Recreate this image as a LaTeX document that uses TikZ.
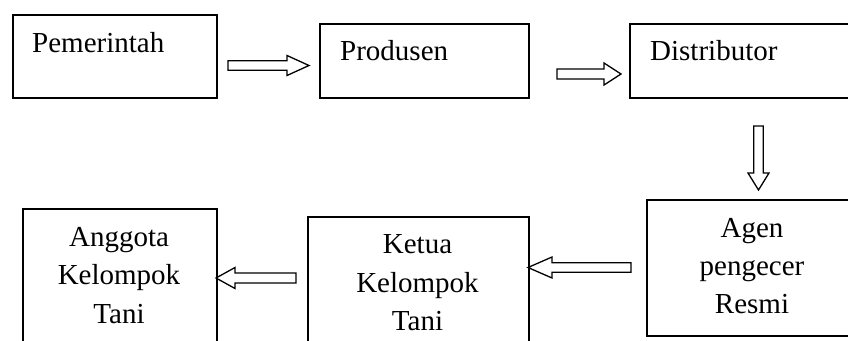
\documentclass[tikz,border=0pt]{standalone}
\usepackage{fontspec}
\setmainfont{Liberation Serif}
\tikzset{
  stagebox/.style={draw=black, line width=1.8pt, rectangle, inner sep=0pt},
  stagetext/.style={inner sep=0pt, font=\fontsize{29}{38.5}\selectfont},
  blockarrow/.style={draw=black, fill=white, line width=1.3pt, line join=miter},
}
% hollow block arrow: #1 tail, #2 rotation, #3 length, #4 head length,
% #5 half shaft width, #6 half head width
\newcommand\flowarrow[6]{%
  \begin{scope}[shift={#1}, rotate=#2]
    \draw[blockarrow] (0,-#5) -- ({#3-#4},-#5) -- ({#3-#4},-#6) -- (#3,0)
      -- ({#3-#4},#6) -- ({#3-#4},#5) -- (0,#5) -- cycle;
  \end{scope}}
\begin{document}
\begin{tikzpicture}[x=1pt, y=-1pt]
  \useasboundingbox (0,0) rectangle (848,340);
  \clip (0,0) rectangle (848,340);
  \fill[white] (0,0) rectangle (848,340);

  % top row
  \node[stagebox, anchor=north west, minimum width=204pt, minimum height=83pt] (gov) at (12,14) {};
  \node[stagetext, anchor=base west] (govt) at (32,52) {Pemerintah};
  \node[stagebox, anchor=north west, minimum width=209pt, minimum height=74pt] (prod) at (319,23) {};
  \node[stagetext, anchor=base west] (prodt) at (340,60) {Produsen};
  \node[stagebox, anchor=north west, minimum width=229pt, minimum height=74pt] (dist) at (629,23) {};
  \node[stagetext, anchor=base west] (distt) at (650,60) {Distributor};

  % bottom row
  \node[stagebox, anchor=north west, minimum width=212pt, minimum height=136pt] (agen) at (646,199) {};
  \node[stagetext, anchor=base] (agen1) at (752,237) {Agen};
  \node[stagetext, anchor=base] (agen2) at (752,275.5) {pengecer};
  \node[stagetext, anchor=base] (agen3) at (752,313.5) {Resmi};

  \node[stagebox, anchor=north west, minimum width=221pt, minimum height=140pt] (ketua) at (307,216) {};
  \node[stagetext, anchor=base] (ketua1) at (417.5,253) {Ketua};
  \node[stagetext, anchor=base] (ketua2) at (417.5,292) {Kelompok};
  \node[stagetext, anchor=base] (ketua3) at (417.5,330) {Tani};

  \node[stagebox, anchor=north west, minimum width=194pt, minimum height=148pt] (anggota) at (22,208) {};
  \node[stagetext, anchor=base] (ang1) at (119,246) {Anggota};
  \node[stagetext, anchor=base] (ang2) at (119,284.5) {Kelompok};
  \node[stagetext, anchor=base] (ang3) at (119,323) {Tani};

  % flow arrows between the stages
  \flowarrow{(228,65.5)}{0}{81}{22}{4.7}{10}
  \flowarrow{(557,74)}{0}{64}{17}{5}{11}
  \flowarrow{(758.5,126)}{-90}{64}{17}{4.7}{10.5}
  \flowarrow{(631,267.5)}{180}{103}{24}{4.7}{10.5}
  \flowarrow{(296,278)}{180}{80}{19}{5}{10.5}
\end{tikzpicture}
\end{document}
